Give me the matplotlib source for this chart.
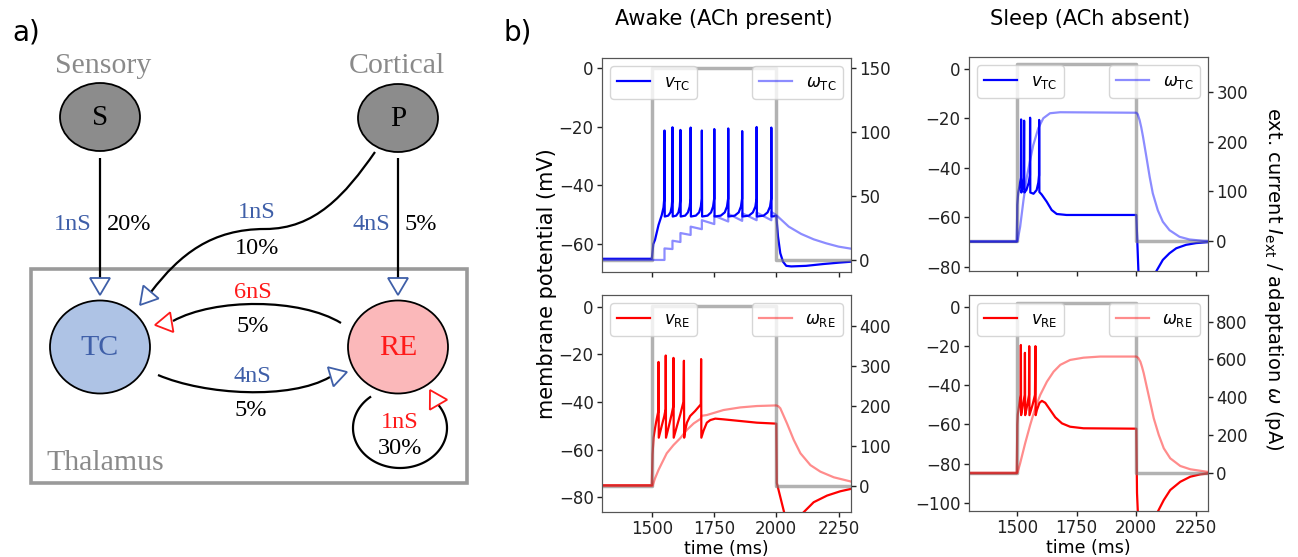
import numpy as np
import matplotlib
matplotlib.use('Agg')
import matplotlib.pyplot as plt
from matplotlib.patches import Ellipse, Polygon, PathPatch, Rectangle
from matplotlib.path import Path

# ---- data: (time in ms, value) ----
v_tc_awake = [(1300, -65), (1500, -65), (1506, -60), (1513, -58.5), (1527, -53.5), (1540, -50.1),
              (1547, -47.5), (1550.5, -44), (1551, -21.3),
              (1552, -50.6), (1566, -50.3), (1575, -49.2), (1580, -47.2), (1582.5, -44.5), (1583, -20.2),
              (1584, -50.6), (1598, -50.3), (1607, -49.2), (1612, -47.2), (1614.5, -44.5), (1615, -21.1),
              (1616, -50.6), (1634, -50.3), (1645, -49.2), (1652, -47.2), (1655.5, -44.5), (1656, -20.3),
              (1657, -50.6), (1677, -50.3), (1690, -49.2), (1697, -47.2), (1700.5, -44.5), (1701, -21.3),
              (1702, -50.6), (1724, -50.3), (1738, -49.2), (1746, -47.2), (1750.5, -44.5), (1751, -20.8),
              (1752, -50.6), (1777, -50.3), (1793, -49.2), (1802, -47.2), (1806.5, -44.5), (1807, -20.6),
              (1808, -50.6), (1833, -50.3), (1849, -49.2), (1858, -47.2), (1862.5, -44.5), (1863, -21.5),
              (1864, -50.6), (1890, -50.3), (1906, -49.2), (1916, -47.2), (1920.5, -44.5), (1921, -20.1),
              (1922, -50.6), (1949, -50.3), (1965, -49.2), (1975, -47.2), (1979.5, -44.5), (1980, -20.3),
              (1981, -50.6), (2000, -50.4), (2007, -57.5), (2016, -63.1), (2027, -66), (2040, -67.4),
              (2060, -67.6), (2120, -67.4), (2187, -66.8), (2253, -66.3), (2300, -66)]
w_tc_awake = [(1300, 0), (1551, 0), (1551, 9), (1583, 8.5), (1583, 15), (1615, 14), (1615, 21),
              (1656, 19.5), (1656, 26), (1701, 24), (1701, 31), (1751, 28), (1751, 34.5), (1807, 30),
              (1807, 36), (1863, 30.5), (1863, 36.5), (1921, 31), (1921, 37), (1980, 31), (1980, 37.5),
              (2000, 35), (2050, 26), (2100, 20.3), (2150, 16.1), (2200, 13), (2250, 10.4), (2300, 8.8)]

v_tc_sleep = [(1300, -70), (1500, -70), (1502, -55), (1506, -50), (1512, -47), (1517, -44), (1518, -20.4),
              (1519, -50), (1525, -47.5), (1529.5, -44), (1530.6, -20.9), (1531.5, -50), (1540, -49),
              (1550, -46), (1555, -43), (1555.6, -19.7), (1556.5, -50), (1570, -50.5), (1583, -49),
              (1590, -46), (1593, -43), (1593.5, -20.6), (1594.5, -49.8), (1604, -50.8), (1625, -53.7),
              (1646, -57.1), (1667, -58.7), (1708, -59.1), (2000, -59.1), (2012, -90), (2040, -100),
              (2065, -88), (2083, -82), (2111, -77.3), (2139, -74.6), (2167, -72.6), (2208, -71.2),
              (2250, -70.5), (2300, -70.1)]
w_tc_sleep = [(1300, 0), (1503, 0), (1514, 28.8), (1528, 82.5), (1542, 129), (1556, 163), (1569, 193),
              (1590, 227), (1611, 247), (1639, 257), (1681, 259), (2000, 258), (2006, 255), (2014, 243),
              (2021, 228), (2028, 210), (2042, 170), (2056, 129), (2069, 96), (2090, 62), (2111, 39),
              (2139, 22), (2181, 8.7), (2222, 3.4), (2278, 0.7), (2300, 0.3)]

v_re_awake = [(1300, -75), (1500, -75), (1503, -62), (1507, -55), (1513, -51), (1520, -47), (1526, -44),
              (1527, -23.2), (1528, -55), (1540, -50), (1550, -46), (1555.5, -43), (1556, -20.5),
              (1557, -55), (1570, -49.5), (1580, -45), (1586, -42), (1587, -21.5), (1588, -55),
              (1600, -50.5), (1615, -45), (1627, -40), (1629, -22.7), (1630, -55), (1634, -52),
              (1641, -48.7), (1654, -45.9), (1674, -43.8), (1697, -41), (1698, -22), (1699, -55),
              (1708, -52), (1721, -48.7), (1735, -47.6), (1755, -47), (1788, -47.3), (1855, -48),
              (1922, -48.7), (2000, -49.1), (2002, -74), (2033, -87), (2070, -94), (2105, -86.8),
              (2150, -82.1), (2204, -79.3), (2257, -77.5), (2300, -76.5)]
w_re_awake = [(1300, 0), (1503, 0), (1513, 19), (1527, 40), (1540, 56.5), (1560, 81.5), (1587, 102),
              (1614, 119), (1641, 140), (1668, 156), (1697, 168), (1699, 175), (1721, 177), (1788, 189.5),
              (1855, 196), (1922, 199.5), (2000, 201), (2008, 199), (2016, 194), (2043, 156), (2070, 115),
              (2097, 81.5), (2137, 52), (2177, 35.7), (2231, 21.6), (2300, 11)]

v_re_sleep = [(1300, -85), (1500, -85), (1502, -60), (1504, -55), (1510, -50), (1516, -45), (1517, -19.5),
              (1518, -55.3), (1526, -50), (1533, -45), (1534, -23.5), (1535, -55.3), (1544, -50),
              (1551, -45), (1552, -20.1), (1553, -55.3), (1566, -50), (1576, -45), (1578, -20.1),
              (1579, -55.3), (1584, -52.7), (1595, -49), (1605, -48), (1619, -49), (1640, -52.7),
              (1661, -56.4), (1689, -59.5), (1723, -61.2), (1779, -62), (2000, -62.2), (2003, -95),
              (2010, -115), (2060, -118), (2088, -105), (2115, -98.6), (2142, -93.5), (2184, -89.3),
              (2226, -86.7), (2268, -85.5), (2300, -85.1)]
w_re_sleep = [(1300, 0), (1503, 0), (1514, 49.6), (1535, 155.6), (1556, 252.7), (1577, 341), (1598, 411.7),
              (1626, 482), (1654, 535), (1682, 571), (1723, 597), (1779, 609), (1849, 615), (2000, 615),
              (2008, 608), (2017, 588), (2024, 560), (2031, 527), (2045, 447), (2059, 368), (2073, 288),
              (2094, 200), (2115, 129), (2142, 76), (2184, 35.5), (2226, 18), (2300, 4)]

# external current pulse (pA)
pulse_t = [1300, 1500, 1500, 2000, 2000, 2300]
pulse_shape = [0, 0, 1, 1, 0, 0]
i_ext = {'tc_awake': 150, 'tc_sleep': 355, 're_awake': 450, 're_sleep': 900}

time_ticks = [1500, 1750, 2000, 2250]

W, H = 1298, 557
fig = plt.figure(figsize=(W / 100, H / 100), dpi=100)

# ---------------- a) diagram, drawn in pixel coordinates ----------------
ax0 = fig.add_axes([0, 0, 1, 1])
ax0.set_xlim(0, W)
ax0.set_ylim(H, 0)
ax0.axis('off')

serif = 'Liberation Serif'
blue_txt = '#3f5fa8'
red_txt = '#ff1a1a'
gray_txt = '#8a8a8a'


def head(tip, base, color):
    tip = np.array(tip, float)
    base = np.array(base, float)
    d = tip - base
    d /= np.hypot(*d)
    n = np.array([-d[1], d[0]])
    b = tip - 17 * d
    pts = [tip, b + 10 * n, b - 10 * n]
    ax0.add_patch(Polygon(pts, closed=True, facecolor='white', edgecolor=color, lw=1.3, zorder=4))


def curve(verts, codes):
    ax0.add_patch(PathPatch(Path(verts, codes), fill=False, lw=1.6, edgecolor='black', zorder=3))


ax0.add_patch(Rectangle((31, 269), 436, 214, fill=False, edgecolor='#9a9a9a', lw=2.6, zorder=1))

ax0.add_patch(Ellipse((100, 117), 80, 68, facecolor='#8c8c8c', edgecolor='black', lw=1.3, zorder=2))
ax0.add_patch(Ellipse((398, 118), 80, 68, facecolor='#8c8c8c', edgecolor='black', lw=1.3, zorder=2))
ax0.add_patch(Ellipse((100, 347), 100, 93, facecolor='#aec3e5', edgecolor='black', lw=1.3, zorder=2))
ax0.add_patch(Ellipse((398, 347), 100, 93, facecolor='#fbb8ba', edgecolor='black', lw=1.3, zorder=2))

ax0.text(100, 118, 'S', fontsize=21, family=serif, ha='center', va='center', zorder=5)
ax0.text(398, 119, 'P', fontsize=21, family=serif, ha='center', va='center', zorder=5)
ax0.text(100, 348, 'TC', fontsize=21.5, family=serif, color=blue_txt, ha='center', va='center', zorder=5)
ax0.text(398, 348, 'RE', fontsize=21.5, family=serif, color=red_txt, ha='center', va='center', zorder=5)

ax0.text(103, 66, 'Sensory', fontsize=21.5, family=serif, color=gray_txt, ha='center', va='center')
ax0.text(397, 66, 'Cortical', fontsize=21.5, family=serif, color=gray_txt, ha='center', va='center')
ax0.text(46, 463, 'Thalamus', fontsize=21.5, family=serif, color=gray_txt, ha='left', va='center')
ax0.text(12, 32, 'a)', fontsize=20, ha='left', va='center')
ax0.text(503, 32, 'b)', fontsize=20, ha='left', va='center')

# straight projections
curve([(100, 158), (100, 278)], [Path.MOVETO, Path.LINETO])
head((100, 295), (100, 278), blue_txt)
curve([(398, 158), (398, 278)], [Path.MOVETO, Path.LINETO])
head((398, 295), (398, 278), blue_txt)
# P -> TC
curve([(375, 152), (345, 195), (315, 229), (265, 229), (212, 229), (180, 254), (151, 292)],
      [Path.MOVETO] + [Path.CURVE4] * 6)
head((140, 305), (151, 292), blue_txt)
# RE -> TC
curve([(341, 323), (300, 298), (215, 298), (173, 321)], [Path.MOVETO] + [Path.CURVE4] * 3)
head((155, 325), (173, 322), red_txt)
# TC -> RE
curve([(158, 375), (205, 395), (290, 400), (330, 377)], [Path.MOVETO] + [Path.CURVE4] * 3)
head((347, 372), (330, 377), blue_txt)
# RE self loop
th = np.radians(np.linspace(232, -38, 120))
loop = np.column_stack([400 + 47 * np.cos(th), 428 + 40 * np.sin(th)])
curve(loop, [Path.MOVETO] + [Path.LINETO] * (len(loop) - 1))
head((430, 390), (437.5, 403), red_txt)

lab = dict(fontsize=17.5, family=serif, va='center')
ax0.text(92, 224, '1nS', color=blue_txt, ha='right', **lab)
ax0.text(107, 224, '20%', ha='left', **lab)
ax0.text(390, 224, '4nS', color=blue_txt, ha='right', **lab)
ax0.text(405, 224, '5%', ha='left', **lab)
ax0.text(257, 213, '1nS', color=blue_txt, ha='center', **lab)
ax0.text(257, 248, '10%', ha='center', **lab)
ax0.text(253, 293, '6nS', color=red_txt, ha='center', **lab)
ax0.text(253, 327, '5%', ha='center', **lab)
ax0.text(252, 377, '4nS', color=blue_txt, ha='center', **lab)
ax0.text(251, 411, '5%', ha='center', **lab)
ax0.text(400, 423, '1nS', color=red_txt, ha='center', **lab)
ax0.text(400, 448, '30%', ha='center', **lab)

# ---------------- b) traces ----------------
tick_fs = 12
label_fs = 15


def panel(box, v_data, w_data, amp, color, cell, vlim, wlim, vticks, wticks, bottom):
    left, top, right, low = box
    ax = fig.add_axes([left / W, 1 - low / H, (right - left) / W, (low - top) / H])
    ax2 = ax.twinx()
    t_v, v = np.array(v_data).T
    t_w, w = np.array(w_data).T
    lv, = ax.plot(t_v, v, color=color, lw=1.6)
    ax2.plot(pulse_t, np.array(pulse_shape) * amp, color='gray', alpha=0.6, lw=2.5)
    lw_, = ax2.plot(t_w, w, color=color, alpha=0.45, lw=1.6)
    ax.set_xlim(1300, 2300)
    ax.set_ylim(*vlim)
    ax2.set_ylim(*wlim)
    ax.set_yticks(vticks)
    ax2.set_yticks(wticks)
    ax.set_xticks(time_ticks)
    if bottom:
        ax.set_xlabel('time (ms)', fontsize=12.5, labelpad=1)
    else:
        ax.set_xticklabels([])
    for a in (ax, ax2):
        a.tick_params(labelsize=tick_fs, colors='#222222', width=1.0, pad=2.5)
        for s in a.spines.values():
            s.set_color('#555555')
    leg1 = ax2.legend([lv], [r'$v_{\rm %s}$' % cell], loc='upper left', fontsize=tick_fs)
    ax2.add_artist(leg1)
    ax2.legend([lw_], [r'$\omega_{\rm %s}$' % cell], loc='upper right', fontsize=tick_fs)
    return ax, ax2


panel((602, 58, 851, 272), v_tc_awake, w_tc_awake, i_ext['tc_awake'], 'blue', 'TC',
      (-69.5, 3.4), (-9.4, 157.6), [-60, -40, -20, 0], [0, 50, 100, 150], False)
panel((969, 57, 1208, 271), v_tc_sleep, w_tc_sleep, i_ext['tc_sleep'], 'blue', 'TC',
      (-81.8, 4.9), (-60, 370), [-80, -60, -40, -20, 0], [0, 100, 200, 300], False)
panel((602, 295, 851, 512), v_re_awake, w_re_awake, i_ext['re_awake'], 'red', 'RE',
      (-86.2, 4.9), (-65, 476.6), [-80, -60, -40, -20, 0], [0, 100, 200, 300, 400], True)
panel((969, 295, 1208, 511), v_re_sleep, w_re_sleep, i_ext['re_sleep'], 'red', 'RE',
      (-104.2, 6), (-203, 941), [-100, -80, -60, -40, -20, 0], [0, 200, 400, 600, 800], True)

ax0.text(724, 19, 'Awake (ACh present)', fontsize=label_fs, ha='center', va='center')
ax0.text(1090, 19, 'Sleep (ACh absent)', fontsize=label_fs, ha='center', va='center')
ax0.text(547, 284, 'membrane potential (mV)', fontsize=label_fs, rotation=90, ha='center', va='center')
ax0.text(1273, 279, r'ext. current $I_{\rm ext}$ / adaptation $\omega$ (pA)', fontsize=14,
         rotation=270, ha='center', va='center')

fig.savefig('out.png', dpi=100)
